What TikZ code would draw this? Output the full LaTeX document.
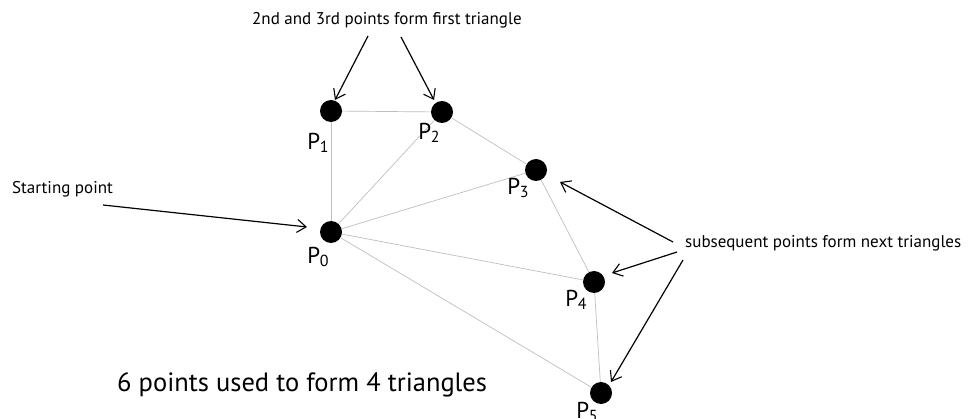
\documentclass[tikz,border=0pt]{standalone}
\usepackage{fontspec}
\setmainfont{PT Sans}
\usetikzlibrary{arrows.meta}
\newcommand{\psub}[1]{P\kern-0.5pt\raisebox{-3pt}{\fontsize{16}{16}\selectfont #1}}
\begin{document}
\begin{tikzpicture}[x=1pt,y=-1pt,
  pt/.style={circle,fill=black,minimum size=22pt,inner sep=0pt},
  edge/.style={draw=black!25,line width=0.7pt},
  lbl/.style={font=\fontsize{23}{23}\selectfont,inner sep=0pt},
  note/.style={font=\fontsize{17}{17}\selectfont,inner sep=0pt},
  arr/.style={draw=black,line width=1.2pt,-{Straight Barb[length=9pt,width=13pt,line width=1.1pt]}}]
\useasboundingbox[fill=white] (0,0) rectangle (968,419);
\node[pt] (p0) at (331,232) {};
\node[pt] (p1) at (331,111) {};
\node[pt] (p2) at (442,112) {};
\node[pt] (p3) at (536,170) {};
\node[pt] (p4) at (594,282) {};
\node[pt] (p5) at (601,393) {};
\draw[edge] (p1) -- (p2);
\draw[edge] (p1) -- (p0);
\draw[edge] (p0) -- (p2);
\draw[edge] (p2) -- (p3);
\draw[edge] (p0) -- (p3);
\draw[edge] (p3) -- (p4);
\draw[edge] (p0) -- (p4);
\draw[edge] (p4) -- (p5);
\draw[edge] (p0) -- (p5);
\node[lbl] (l0) at (318,257) {\psub{0}};
\node[lbl] (l1) at (318,143) {\psub{1}};
\node[lbl] (l2) at (429,133) {\psub{2}};
\node[lbl] (l3) at (518,188) {\psub{3}};
\node[lbl] (l4) at (576,300) {\psub{4}};
\node[lbl] (l5) at (587,412) {\psub{5}};
\node[note,anchor=west] (t1) at (252,20) {2nd and 3rd points form first triangle};
\node[note,anchor=west] (t2) at (12,189) {Starting point};
\node[note,anchor=west] (t3) at (685,243) {subsequent points form next triangles};
\node[font=\fontsize{26.5}{26.5}\selectfont,inner sep=0pt,anchor=west] (t4) at (117,385) {6 points used to form 4 triangles};
\coordinate (a1s) at (368,36); \coordinate (a1e) at (335,100);
\coordinate (a2s) at (401,37); \coordinate (a2e) at (434,100);
\coordinate (a3s) at (103,205); \coordinate (a3e) at (307,227);
\coordinate (a4s) at (673,242); \coordinate (a4e) at (560,182);
\coordinate (a5s) at (677,252); \coordinate (a5e) at (612,273);
\coordinate (a6s) at (683,260); \coordinate (a6e) at (611,382);
\draw[arr] (a1s) -- (a1e);
\draw[arr] (a2s) -- (a2e);
\draw[arr] (a3s) -- (a3e);
\draw[arr] (a4s) -- (a4e);
\draw[arr] (a5s) -- (a5e);
\draw[arr] (a6s) -- (a6e);
\end{tikzpicture}
\end{document}
